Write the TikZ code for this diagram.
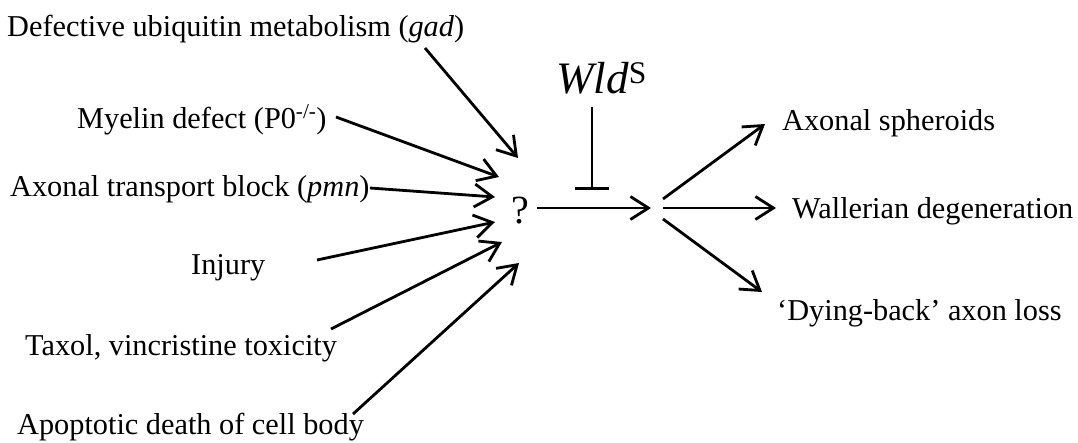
\documentclass[tikz,border=0pt]{standalone}
\usepackage{fontspec}
\setmainfont{Liberation Serif}
\usetikzlibrary{arrows.meta}
\begin{document}
\begin{tikzpicture}[x=1pt,y=-1pt,
  lbl/.style={anchor=base west,inner sep=0pt,font=\fontsize{30.3}{35}\selectfont},
  conn/.style={line width=2.8pt,-{Straight Barb[length=18pt,width=23pt,line width=2.8pt]}},
  inhib/.style={line width=2.8pt,-{Bar[width=34pt,line width=2.8pt]}}]
\useasboundingbox (0,0) rectangle (1078,442);
% left labels
\node[lbl] (gad) at (7,36) {Defective ubiquitin metabolism (\textit{gad})};
\node[lbl] (myel) at (77,128) {Myelin defect (P0\textsuperscript{-/-})};
\node[lbl] (pmn) at (10,196) {Axonal transport block (\textit{pmn})};
\node[lbl] (inj) at (191,274) {Injury};
\node[lbl] (tax) at (25,355) {Taxol, vincristine toxicity};
\node[lbl] (apo) at (17,434) {Apoptotic death of cell body};
% centre
\node[anchor=base west,inner sep=0pt,font=\fontsize{40}{44}\selectfont] (q) at (511,223) {?};
\node[anchor=base west,inner sep=0pt,font=\fontsize{45}{50}\selectfont] (wld) at (556,93) {\textit{Wld}\textsuperscript{S}};
% right labels
\node[lbl] (sph) at (782,130) {Axonal spheroids};
\node[lbl] (wal) at (792,218) {Wallerian degeneration};
\node[lbl] (dyb) at (777,320) {`Dying-back' axon loss};
% coordinates
\coordinate (s1) at (425,48);  \coordinate (e1) at (518,158);
\coordinate (s2) at (336,117); \coordinate (e2) at (499,177);
\coordinate (s3) at (370,188); \coordinate (e3) at (495,197);
\coordinate (s4) at (317,260); \coordinate (e4) at (495,222);
\coordinate (s5) at (331,329); \coordinate (e5) at (502,242);
\coordinate (s6) at (353,414); \coordinate (e6) at (519,263);
\coordinate (ms) at (537,208); \coordinate (me) at (651,208);
\coordinate (ws) at (592,107); \coordinate (wb) at (592,190);
\coordinate (r1) at (663,199); \coordinate (t1) at (765,124);
\coordinate (r2) at (663,208); \coordinate (t2) at (776,208);
\coordinate (r3) at (663,219); \coordinate (t3) at (762,292);
% connectors
\draw[conn] (s1) -- (e1);
\draw[conn] (s2) -- (e2);
\draw[conn] (s3) -- (e3);
\draw[conn] (s4) -- (e4);
\draw[conn] (s5) -- (e5);
\draw[conn] (s6) -- (e6);
\draw[conn] (ms) -- (me);
\draw[inhib] (ws) -- (wb);
\draw[conn] (r1) -- (t1);
\draw[conn] (r2) -- (t2);
\draw[conn] (r3) -- (t3);
\end{tikzpicture}
\end{document}
